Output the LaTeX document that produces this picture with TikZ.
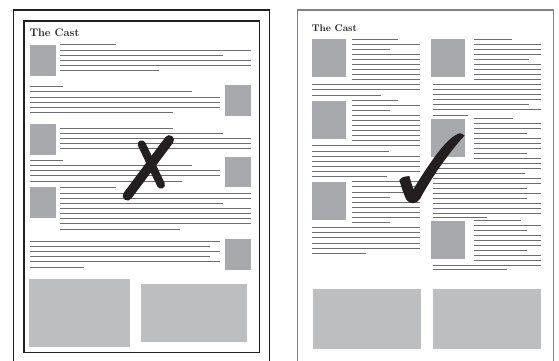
\documentclass[tikz,border=0pt]{standalone}
\usepackage{fontspec}
\definecolor{txtgray}{HTML}{6D6E71}
\definecolor{imggray}{HTML}{A7A9AC}
\definecolor{biggray}{HTML}{BCBEC0}
\definecolor{frameblack}{HTML}{231F20}
\definecolor{framegray}{HTML}{808285}
\tikzset{
  txt/.style={draw=txtgray, line width=1pt},
  img/.style={fill=imggray, draw=none},
  bigimg/.style={fill=biggray, draw=none},
  pen/.style={draw=frameblack, line cap=round},
  title/.style={anchor=base west, inner sep=0pt, text=frameblack}
}
\begin{document}
\begin{tikzpicture}[x=1pt,y=-1pt]
\useasboundingbox (0,0) rectangle (559,360);
\fill[white] (0,0) rectangle (559,360);

% ---------------- left panel ----------------
\draw[frameblack, line width=1.1pt] (13.3,361) -- (13.3,10) -- (269.3,10) -- (269.3,361);
\draw[frameblack, line width=1.4pt] (24,21) rectangle (259.3,352.3);
\node[title, font=\fontsize{11}{13}\selectfont\bfseries] (t1) at (29.3,36.7) {The Cast};

\fill[img] (30,45) rectangle (55.7,75.7);
\fill[img] (225.3,85) rectangle (250.7,115.7);
\fill[img] (30,124) rectangle (55.7,155);
\fill[img] (225.3,157) rectangle (250.7,187.3);
\fill[img] (30,187.3) rectangle (55.7,217.7);
\fill[img] (225.3,239) rectangle (250.7,269.7);
\fill[bigimg] (29,279) rectangle (130,346.7);
\fill[bigimg] (141,284) rectangle (247,342);

\foreach \y/\b in {44.3/116,50/251,55/223,60.3/251,65.3/251,70.7/159,
  128/173,133/223,138/251,143.3/251,148.3/251,
  187.7/116,193/251,198.3/251,203.7/223,208.7/251,213.7/251,218.7/251,223.7/251,229/179.7}
  \draw[txt] (60,\y) -- (\b,\y);
\foreach \y/\b in {86.7/63,91.7/192,97/220,102/220,107.3/220,112.7/173,
  160.7/63,165.7/192,170.7/220,175.7/220,181/182,
  241.3/220,246.3/210,251.3/220,256.7/210,261.7/220,267/84}
  \draw[txt] (30,\y) -- (\b,\y);

% X mark
\draw[pen, line width=9.5pt] (127.4,195.8) -- (169.3,139.9);
\draw[pen, line width=8pt] (141.7,144.3) -- (161,184.7);

% ---------------- right panel ----------------
\draw[framegray, line width=1.2pt] (297.7,361) -- (297.7,10) -- (553.3,10) -- (553.3,361);
\node[title, font=\fontsize{9.7}{12}\selectfont\bfseries] (t2) at (311.7,31.7) {The Cast};

\fill[img] (312,39) rectangle (345.7,76.7);
\fill[img] (312,100.7) rectangle (345.7,138.7);
\fill[img] (312,182) rectangle (345.7,219.7);
\fill[img] (431,39) rectangle (465,76.7);
\fill[img] (431,119) rectangle (465,156.7);
\fill[img] (431,221) rectangle (465,259);
\fill[bigimg] (313,289) rectangle (421,348.7);
\fill[bigimg] (433,289) rectangle (541,348.7);

\foreach \y/\b in {39/398.3,44/420,49/390,54/420,59/420,64/420,69/420,74/420,79/420,
  100/398.3,105/420,110/390,115/420,120/420,125/420,130/420,135/420,140.5/420,
  181.7/420,186.7/420,192/420,197/390,202/420,207.3/420,212.3/420,217.7/420,222.7/390}
  \draw[txt] (352.3,\y) -- (\b,\y);
\foreach \y/\b in {84.5/420,89.5/420,95/381,
  145.7/420,151/389.3,156/420,161/420,166/420,171/420,176/386.7,
  227.7/420,232.7/420,237.7/420,243/420,248/420,253.3/366}
  \draw[txt] (312.3,\y) -- (\b,\y);
\foreach \y/\b in {39/511.7,44/541,49/541,54/541,59/529.3,64/541,69/541,74/541,79/541,
  118.5/513.3,123.5/541,128.5/541,133.5/526.7,138.5/541,143.5/541,148.5/541,153.5/526.7,158.5/541,
  220.7/521,225.7/541,230.7/527.3,235.7/541,240.7/541,245.7/541,250.7/527.3,255.7/541,260.7/541}
  \draw[txt] (474,\y) -- (\b,\y);
\foreach \y/\b in {84.5/541,89.5/541,94.5/541,99.5/541,104.5/529.3,109.5/541,115/468.3,
  163/541,168/541,173/525,178/541,183/541,188/526.7,193/541,198/526.7,203/541,208/541,213/541,217/486.7,
  265/541,269.5/506.7}
  \draw[txt] (432.7,\y) -- (\b,\y);

% check mark
\fill[frameblack] (399.3,180) .. controls (402,177) .. (409.3,176)
  -- (413.3,189.3)
  .. controls (430,162) and (445,141) .. (455,135.5)
  .. controls (460,132.5) .. (464.5,135.5)
  .. controls (447,155) and (430,180) .. (420,199)
  .. controls (416,204.5) and (410,205) .. (406,199)
  .. controls (403,192) .. (399.3,180) -- cycle;
\end{tikzpicture}
\end{document}
